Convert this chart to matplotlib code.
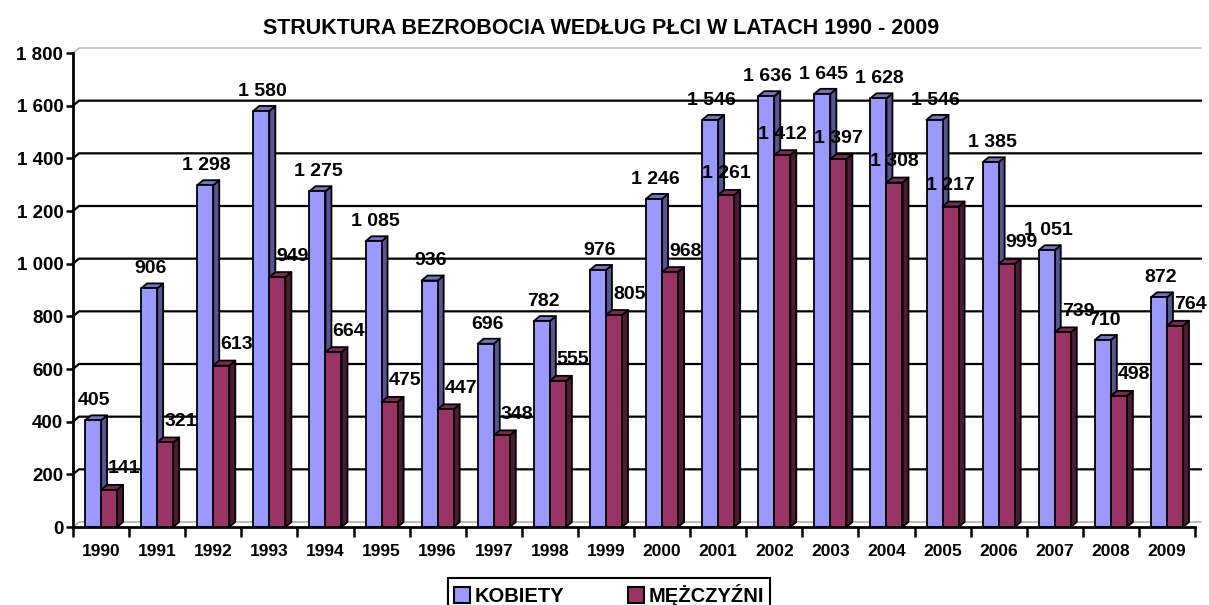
import numpy as np
import matplotlib.pyplot as plt
from matplotlib.patches import Polygon, Patch

plt.rcParams['font.family'] = ['Liberation Sans', 'DejaVu Sans']
plt.rcParams['font.weight'] = 'bold'

years = [str(y) for y in range(1990, 2010)]
kobiety = [405, 906, 1298, 1580, 1275, 1085, 936, 696, 782, 976,
           1246, 1546, 1636, 1645, 1628, 1546, 1385, 1051, 710, 872]
mezczyzni = [141, 321, 613, 949, 664, 475, 447, 348, 555, 805,
             968, 1261, 1412, 1397, 1308, 1217, 999, 739, 498, 764]
y_ticks = list(range(0, 1801, 200))

W, H = 1209, 605
fig = plt.figure(figsize=(W / 100, H / 100), dpi=100)
ax = fig.add_axes([73 / W, (H - 527) / H, (1195 - 73) / W, (527 - 53) / H])
ax.set_xlim(-0.5, len(years) - 0.5)
ax.set_ylim(0, 1800)

# 3d depth in data units (about 6 px right, 5 px up)
dx = 6 / 56.1
dy = 5 / (474 / 1800)
w = 0.286


def fmt(v):
    return f"{v:,}".replace(",", " ")


def bar3d(x0, h, front, top, side):
    faces = [
        ([(x0 + w, 0), (x0 + w + dx, dy), (x0 + w + dx, h + dy), (x0 + w, h)], side),
        ([(x0, h), (x0 + w, h), (x0 + w + dx, h + dy), (x0 + dx, h + dy)], top),
        ([(x0, 0), (x0 + w, 0), (x0 + w, h), (x0, h)], front),
    ]
    for pts, c in faces:
        ax.add_patch(Polygon(pts, closed=True, facecolor=c, edgecolor='black',
                             linewidth=1.3, joinstyle='round', clip_on=False, zorder=3))


# back wall gridlines and floor
xl, xr = -0.5, len(years) - 0.5
for v in y_ticks[1:-1]:
    ax.plot([xl, xl + dx, xr + dx], [v, v + dy, v + dy], color='black', lw=1.6,
            zorder=1, clip_on=False)
ax.plot([xl, xl + dx, xr + dx], [1800, 1800 + dy, 1800 + dy], color='#b0b0b0', lw=1,
        zorder=1, clip_on=False)
ax.plot([xl, xl + dx, xr + dx], [0, dy, dy], color='#a0a0a0', lw=1, zorder=1, clip_on=False)

for i in range(len(years)):
    bar3d(i - w, kobiety[i], '#9999ff', '#7373bf', '#55558f')
    bar3d(i, mezczyzni[i], '#993366', '#7a2952', '#4d1a33')

for i in range(len(years)):
    ax.annotate(fmt(kobiety[i]), (i - w / 2, kobiety[i]), xytext=(1, 8),
                textcoords='offset points', ha='center', va='bottom',
                fontsize=14, fontweight='bold', zorder=5, annotation_clip=False)
    shift = 11 if mezczyzni[i] < 1000 else 0
    ax.annotate(fmt(mezczyzni[i]), (i + w / 2, mezczyzni[i]), xytext=(shift, 9),
                textcoords='offset points', ha='center', va='bottom',
                fontsize=14, fontweight='bold', zorder=5, annotation_clip=False)

for s in ['top', 'right']:
    ax.spines[s].set_visible(False)
for s in ['left', 'bottom']:
    ax.spines[s].set_linewidth(2)
    ax.spines[s].set_zorder(4)

ax.set_yticks(y_ticks)
ax.set_yticklabels([fmt(v) for v in y_ticks], fontsize=13.5, fontweight='bold')
ax.tick_params(axis='y', length=5, width=1.8, pad=2)
ax.set_xticks(range(len(years)))
ax.set_xticklabels(years, fontsize=12.5, fontweight='bold')
ax.set_xticks(np.arange(-0.5, len(years)), minor=True)
ax.tick_params(axis='x', which='major', length=0, pad=12)
ax.tick_params(axis='x', which='minor', length=7, width=1.8)

fig.text(601 / W, 1 - 28 / H, 'STRUKTURA BEZROBOCIA WEDŁUG PŁCI W LATACH 1990 - 2009',
         ha='center', va='center', fontsize=15.5, fontweight='bold')

handles = [Patch(facecolor='#9999ff', edgecolor='black', lw=1.5, label='KOBIETY'),
           Patch(facecolor='#993366', edgecolor='black', lw=1.5, label='MĘŻCZYŹNI')]
leg = fig.legend(handles=handles, loc='upper center', bbox_to_anchor=(609 / W, 1 - 578 / H),
                 ncol=2, fancybox=False, edgecolor='black', framealpha=1,
                 prop={'size': 14.5, 'weight': 'bold'}, handlelength=0.8, handleheight=0.8,
                 handletextpad=0.2, columnspacing=3.2, borderpad=0.3, borderaxespad=0)
leg.get_frame().set_linewidth(1.5)

fig.savefig('out.png', dpi=100)
